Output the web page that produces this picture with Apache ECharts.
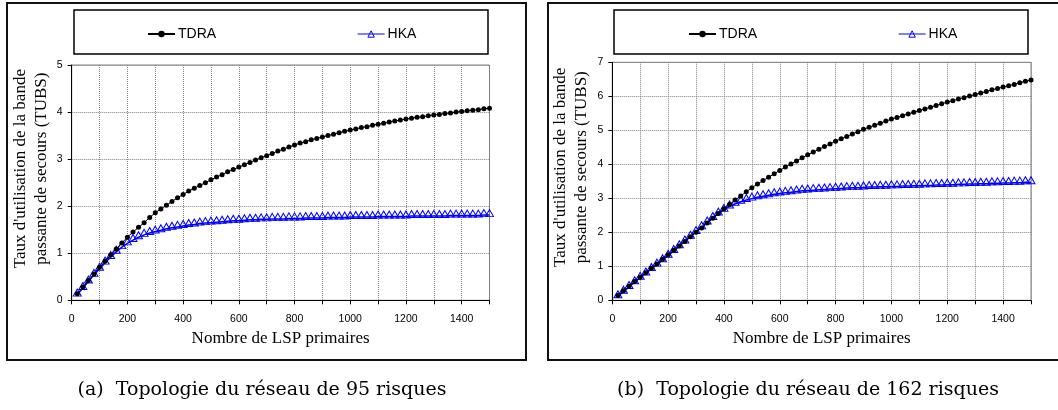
<!DOCTYPE html>
<html>
<head>
<meta charset="utf-8">
<script src="https://cdn.jsdelivr.net/npm/echarts@6/dist/echarts.min.js"></script>
<style>
html,body{margin:0;padding:0;background:#fff;overflow:hidden;}
#chart{width:1058px;height:410px;}
</style>
</head>
<body>
<div id="chart"></div>
<script>
const lspCounts = [20,40,60,80,100,120,140,160,180,200,220,240,260,280,300,320,340,360,380,400,
  420,440,460,480,500,520,540,560,580,600,620,640,660,680,700,720,740,760,780,800,
  820,840,860,880,900,920,940,960,980,1000,1020,1040,1060,1080,1100,1120,1140,1160,1180,1200,
  1220,1240,1260,1280,1300,1320,1340,1360,1380,1400,1420,1440,1460,1480,1500];

const tdraA = [0.14,0.28,0.42,0.56,0.70,0.83,0.96,1.09,1.22,1.34,
  1.45,1.55,1.65,1.76,1.86,1.94,2.02,2.10,2.18,2.25,
  2.32,2.38,2.44,2.50,2.56,2.62,2.67,2.73,2.78,2.83,
  2.88,2.93,2.98,3.03,3.07,3.12,3.17,3.21,3.26,3.30,
  3.34,3.37,3.41,3.44,3.47,3.50,3.53,3.56,3.59,3.62,
  3.64,3.67,3.69,3.72,3.74,3.76,3.79,3.81,3.83,3.85,
  3.87,3.89,3.90,3.92,3.94,3.95,3.97,3.98,4.00,4.01,
  4.03,4.04,4.05,4.07,4.08];

const hkaA = [0.12,0.26,0.40,0.54,0.67,0.80,0.92,1.03,1.13,1.21,
  1.28,1.34,1.39,1.43,1.46,1.49,1.52,1.54,1.56,1.58,
  1.60,1.61,1.63,1.64,1.65,1.66,1.67,1.68,1.69,1.69,
  1.70,1.71,1.71,1.72,1.72,1.73,1.73,1.73,1.74,1.74,
  1.74,1.75,1.75,1.75,1.75,1.76,1.76,1.76,1.76,1.77,
  1.77,1.77,1.77,1.77,1.78,1.78,1.78,1.78,1.78,1.78,
  1.79,1.79,1.79,1.79,1.79,1.79,1.79,1.80,1.80,1.80,
  1.80,1.80,1.80,1.81,1.81];

const tdraB = [0.14,0.28,0.41,0.55,0.68,0.81,0.94,1.07,1.21,1.34,
  1.47,1.60,1.73,1.87,2.00,2.13,2.27,2.41,2.55,2.69,
  2.82,2.95,3.07,3.19,3.31,3.42,3.52,3.62,3.72,3.82,
  3.92,4.01,4.10,4.19,4.28,4.36,4.44,4.52,4.60,4.68,
  4.75,4.82,4.89,4.96,5.03,5.09,5.15,5.21,5.27,5.33,
  5.38,5.43,5.48,5.53,5.58,5.63,5.68,5.73,5.78,5.83,
  5.87,5.92,5.96,6.01,6.05,6.10,6.14,6.19,6.23,6.27,
  6.31,6.35,6.40,6.44,6.48];

const hkaB = [0.12,0.25,0.39,0.53,0.66,0.79,0.92,1.05,1.18,1.31,
  1.45,1.59,1.73,1.87,2.01,2.15,2.29,2.42,2.55,2.66,
  2.76,2.84,2.90,2.95,2.99,3.03,3.06,3.09,3.12,3.14,
  3.16,3.18,3.20,3.22,3.23,3.24,3.25,3.26,3.27,3.28,
  3.29,3.30,3.31,3.31,3.32,3.33,3.33,3.34,3.34,3.35,
  3.35,3.36,3.36,3.37,3.37,3.38,3.38,3.39,3.39,3.40,
  3.40,3.41,3.41,3.42,3.42,3.43,3.43,3.44,3.44,3.45,
  3.45,3.46,3.46,3.47,3.47];

const seriesNames = ['TDRA', 'HKA'];
const xAxisName = 'Nombre de LSP primaires';
const yAxisName = "Taux d'utilisation de la bande\npassante de secours (TUBS)";
const captions = ['(a)  Topologie du réseau de 95 risques', '(b)  Topologie du réseau de 162 risques'];
const yMax = [5, 7];

function pairs(xs, ys) { return xs.map((x, i) => [x, ys[i]]); }

const chart = echarts.init(document.getElementById('chart'), null, {renderer: 'canvas'});

const tickFont = 'Liberation Sans';
const serif = 'Liberation Serif';

function makeX(idx) {
  return {
    type: 'value', gridIndex: idx, min: 0, max: 1500, interval: 100,
    axisLine: {show: true, onZero: false, lineStyle: {color: '#000', width: 1}},
    axisTick: {show: true, length: 4, lineStyle: {color: '#000', width: 1}},
    axisLabel: {
      formatter: v => (v % 200 === 0 && v < 1500) ? String(v) : '',
      fontFamily: tickFont, fontSize: 10.5, color: '#000', margin: 13
    },
    splitLine: {show: true, lineStyle: {type: 'dotted', color: '#808080', width: 1}},
    name: xAxisName, nameLocation: 'middle', nameGap: 30,
    nameTextStyle: {fontFamily: serif, fontSize: 17, color: '#000'}
  };
}
function makeY(idx) {
  return {
    type: 'value', gridIndex: idx, min: 0, max: yMax[idx], interval: 1,
    axisLine: {show: true, onZero: false, lineStyle: {color: '#000', width: 1}},
    axisTick: {show: true, length: 4, lineStyle: {color: '#000', width: 1}},
    axisLabel: {fontFamily: tickFont, fontSize: 10.5, color: '#000', margin: 9},
    splitLine: {show: true, lineStyle: {type: 'dotted', color: '#808080', width: 1}},
    name: yAxisName, nameLocation: 'middle', nameGap: 20, nameRotate: 90,
    nameTextStyle: {fontFamily: serif, fontSize: 17, color: '#000', lineHeight: 21, padding: [0, 0, 0, 28]}
  };
}
function makeSeries(idx, tdra, hka) {
  return [
    {
      name: seriesNames[0], type: 'line', xAxisIndex: idx, yAxisIndex: idx,
      data: pairs(lspCounts, tdra), symbol: 'circle', symbolSize: 5,
      lineStyle: {color: '#000', width: 1}, itemStyle: {color: '#000'}, z: 4
    },
    {
      name: seriesNames[1], type: 'line', xAxisIndex: idx, yAxisIndex: idx,
      data: pairs(lspCounts, hka), symbol: 'triangle', symbolSize: [8, 7], symbolOffset: [0, -2],
      lineStyle: {color: '#0000ff', width: 1.5},
      itemStyle: {color: 'rgba(255,255,255,0)', borderColor: '#0000ff', borderWidth: 1}, z: 3
    }
  ];
}
function makeLegend(left) {
  return {
    left: left, top: 27, padding: 0, orient: 'horizontal', itemGap: 141, itemWidth: 27, itemHeight: 8,
    selectedMode: false,
    data: [
      {name: seriesNames[0]},
      {name: seriesNames[1], itemStyle: {color: 'rgba(255,255,255,0)', borderColor: '#0000ff', borderWidth: 1}, lineStyle: {color: '#0000ff', width: 1}}
    ],
    textStyle: {fontFamily: tickFont, fontSize: 14, color: '#000', padding: [0, 0, 0, -2]}
  };
}

const option = {
  animation: false,
  backgroundColor: '#fff',
  legend: [makeLegend(147), makeLegend(688)],
  grid: [
    {left: 71.7, top: 65, width: 417.8, height: 235.3, show: true, borderColor: '#808080', borderWidth: 1, containLabel: false},
    {left: 612.3, top: 62.3, width: 418.7, height: 238, show: true, borderColor: '#808080', borderWidth: 1, containLabel: false}
  ],
  xAxis: [makeX(0), makeX(1)],
  yAxis: [makeY(0), makeY(1)],
  series: [...makeSeries(0, tdraA, hkaA), ...makeSeries(1, tdraB, hkaB)],
  graphic: [
    {type: 'rect', shape: {x: 7, y: 3, width: 519, height: 357}, style: {fill: 'none', stroke: '#111', lineWidth: 2}, z: 0},
    {type: 'rect', shape: {x: 548, y: 3, width: 540, height: 357}, style: {fill: 'none', stroke: '#111', lineWidth: 2}, z: 0},
    {type: 'rect', shape: {x: 74, y: 10, width: 414, height: 44}, style: {fill: 'none', stroke: '#000', lineWidth: 1.5}, z: 0},
    {type: 'rect', shape: {x: 614, y: 10, width: 414, height: 44}, style: {fill: 'none', stroke: '#000', lineWidth: 1.5}, z: 0},
    {type: 'text', style: {text: captions[0], x: 262, y: 390, align: 'center', verticalAlign: 'middle', font: '19px "DejaVu Serif"', fill: '#000'}},
    {type: 'text', style: {text: captions[1], x: 808, y: 390, align: 'center', verticalAlign: 'middle', font: '19px "DejaVu Serif"', fill: '#000'}}
  ]
};
chart.setOption(option);
</script>
</body>
</html>
